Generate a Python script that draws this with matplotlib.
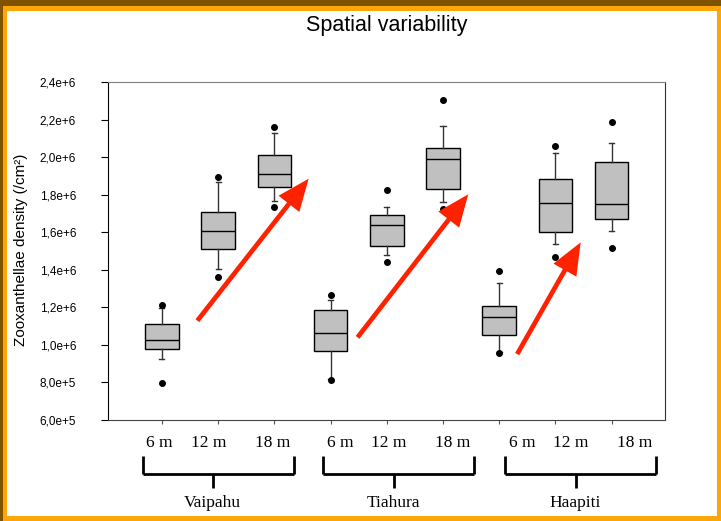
import matplotlib
matplotlib.use('Agg')
import matplotlib.pyplot as plt
from matplotlib.patches import Rectangle
from matplotlib.lines import Line2D

plt.rcParams['font.family'] = ['Liberation Sans', 'DejaVu Sans']

# data (one box per site/depth)
sites = ['Vaipahu', 'Tiahura', 'Haapiti']
depths = ['6 m', '12 m', '18 m']
whis_lo = [0.923e6, 1.402e6, 1.765e6, 0.820e6, 1.479e6, 1.759e6, 0.960e6, 1.539e6, 1.608e6]
q1 = [0.976e6, 1.509e6, 1.842e6, 0.969e6, 1.525e6, 1.830e6, 1.053e6, 1.603e6, 1.672e6]
medians = [1.024e6, 1.608e6, 1.912e6, 1.062e6, 1.637e6, 1.988e6, 1.147e6, 1.754e6, 1.749e6]
q3 = [1.110e6, 1.706e6, 2.009e6, 1.186e6, 1.692e6, 2.050e6, 1.209e6, 1.882e6, 1.976e6]
whis_hi = [1.195e6, 1.869e6, 2.130e6, 1.239e6, 1.736e6, 2.164e6, 1.330e6, 2.020e6, 2.075e6]
out_lo = [0.795e6, 1.363e6, 1.733e6, 0.813e6, 1.443e6, 1.722e6, 0.958e6, 1.466e6, 1.516e6]
out_hi = [1.212e6, 1.896e6, 2.160e6, 1.266e6, 1.825e6, 2.304e6, 1.393e6, 2.061e6, 2.187e6]

# red trend arrows (tail -> tip)
arrow_tail_x = [1.63, 4.48, 7.32]
arrow_tail_y = [1.129e6, 1.040e6, 0.951e6]
arrow_tip_x = [3.61, 6.45, 8.45]
arrow_tip_y = [1.885e6, 1.802e6, 1.546e6]

yticks = [6e5, 8e5, 1.0e6, 1.2e6, 1.4e6, 1.6e6, 1.8e6, 2.0e6, 2.2e6, 2.4e6]
ytick_labels = ['6,0e+5', '8,0e+5', '1,0e+6', '1,2e+6', '1,4e+6',
                '1,6e+6', '1,8e+6', '2,0e+6', '2,2e+6', '2,4e+6']

W, H = 721, 521
fig = plt.figure(figsize=(W / 100, H / 100), dpi=100)
ax = fig.add_axes([108 / W, 1 - 420 / H, (665 - 108) / W, (420 - 82) / H])

stats = []
for i in range(len(medians)):
    stats.append(dict(med=medians[i], q1=q1[i], q3=q3[i], whislo=whis_lo[i],
                      whishi=whis_hi[i], fliers=[out_lo[i], out_hi[i]]))

pos = list(range(1, len(stats) + 1))
ax.bxp(stats, positions=pos, widths=0.6, patch_artist=True, capwidths=0.09,
       boxprops=dict(facecolor='#c0c0c0', edgecolor='black', linewidth=1),
       medianprops=dict(color='black', linewidth=1),
       whiskerprops=dict(color='#333333', linewidth=1),
       capprops=dict(color='#333333', linewidth=1),
       flierprops=dict(marker='o', markerfacecolor='black',
                       markeredgecolor='black', markersize=4))

for i in range(3):
    ax.annotate('', xy=(arrow_tip_x[i], arrow_tip_y[i]),
                xytext=(arrow_tail_x[i], arrow_tail_y[i]),
                arrowprops=dict(arrowstyle='simple,head_length=2.3,head_width=1.9,tail_width=0.34',
                                mutation_scale=10, facecolor='#ff2200',
                                edgecolor='none', lw=0, shrinkA=0, shrinkB=0))

ax.set_xlim(0.04, 9.95)
ax.set_ylim(6e5, 2.4e6)
ax.set_xticks(pos)
ax.set_xticklabels([])
ax.set_yticks(yticks)
ax.set_yticklabels(ytick_labels)
ax.tick_params(axis='x', direction='out', length=3, width=0.8, color='#555555')
ax.tick_params(axis='y', direction='out', length=5, width=0.8, pad=18, labelsize=8.5)
ax.spines['top'].set_color('#808080')
ax.spines['right'].set_color('#333333')
ax.spines['bottom'].set_color('#444444')
ax.spines['left'].set_color('black')

fig.text(386.5 / W, 1 - 25 / H, 'Spatial variability', ha='center', va='center', fontsize=15.5)
fig.text(21 / W, 1 - 250 / H, 'Zooxanthellae density (/cm²)', rotation=90,
         ha='center', va='center', fontsize=11)

# brackets with depth and site labels under the axis
bracket_left = [142.5, 323, 505]
depth_off = [17, 66, 130]
for k, site in enumerate(sites):
    x0 = bracket_left[k]
    x1 = x0 + 151
    xc = x0 + 71
    for seg in ([(x0, x1), (474, 474)], [(x0, x0), (456, 474)],
                [(x1, x1), (456, 474)], [(xc, xc), (474, 488)]):
        fig.add_artist(Line2D([p / W for p in seg[0]], [1 - p / H for p in seg[1]],
                              color='black', lw=2, solid_capstyle='butt'))
    for j, d in enumerate(depths):
        fig.text((x0 + depth_off[j]) / W, 1 - 443 / H, d, ha='center', va='center',
                 fontsize=12.5, family='Liberation Serif')
    fig.text((x0 + 70) / W, 1 - 503 / H, site, ha='center', va='center',
             fontsize=12.5, family='Liberation Serif')

# frame around the picture
frame = [
    ((0, 1 - 6 / H), 1, 6 / H, '#7f5300'),
    ((0, 0), 3 / W, 1, '#7f5300'),
    ((3 / W, 1 - 11 / H), 1, 5 / H, '#fca60a'),
    ((3 / W, 0), 4 / W, 1 - 6 / H, '#fca60a'),
    ((1 - 4 / W, 0), 4 / W, 1 - 6 / H, '#fca60a'),
    ((3 / W, 0), 1, 5 / H, '#fca60a'),
]
for xy, w, h, c in frame:
    fig.patches.append(Rectangle(xy, w, h, transform=fig.transFigure,
                                 facecolor=c, edgecolor='none', zorder=10))

fig.savefig('out.png', dpi=100)
